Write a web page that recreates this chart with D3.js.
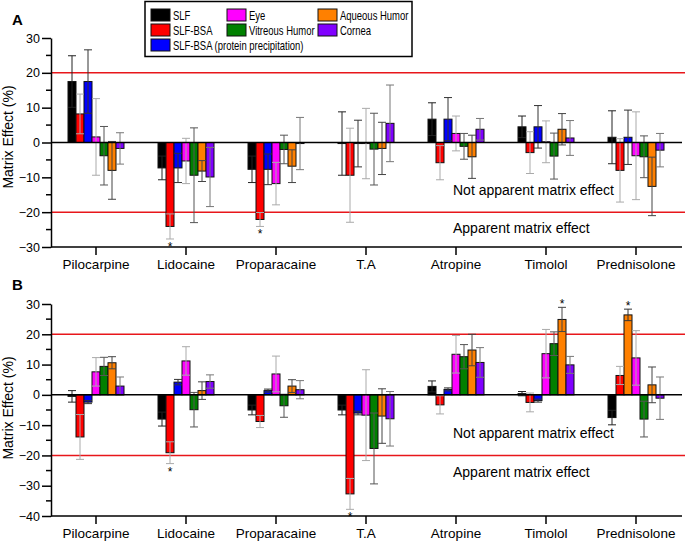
<!DOCTYPE html>
<html>
<head>
<meta charset="utf-8">
<script src="https://cdn.jsdelivr.net/npm/d3@7"></script>
<style>
  body { margin: 0; background: #fff; }
  svg text { font-family: "Liberation Sans", Arial, sans-serif; fill: #000; }
</style>
</head>
<body>
<div id="chart"></div>
<script>
/* data */
const categories = ["Pilocarpine", "Lidocaine", "Proparacaine", "T.A", "Atropine", "Timolol", "Prednisolone"];
const seriesNames = ["SLF", "SLF-BSA", "SLF-BSA (protein precipitation)", "Eye", "Vitreous Humor", "Aqueous Humor", "Cornea"];

// rows = series, columns = categories
const meanA = [
  [17.5, -7.3, -7.7, -0.3, 6.7, 4.5, 1.5],
  [8.2, -24.1, -22.1, -9.4, -5.8, -2.9, -8.0],
  [17.5, -7.3, -7.7, -0.3, 6.7, 4.5, 1.5],
  [1.6, -5.3, -11.8, -0.3, 2.6, 0.2, -3.8],
  [-3.8, -9.4, -2.0, -1.9, -1.1, -3.9, -4.1],
  [-8.0, -8.2, -6.8, -1.7, -4.1, 3.8, -12.6],
  [-1.7, -9.9, -0.3, 5.5, 3.8, 1.3, -2.2]
];
const errA = [
  [7.4, 3.4, 3.8, 9.1, 4.7, 3.1, 7.6],
  [5.7, 3.6, 2.0, 13.5, 4.9, 6.0, 9.1],
  [9.1, 4.2, 4.4, 6.7, 6.2, 6.1, 7.8],
  [11.0, 6.5, 6.1, 10.1, 5.0, 6.0, 12.6],
  [8.4, 13.6, 4.1, 10.3, 3.7, 6.6, 6.0],
  [8.3, 3.0, 4.7, 7.5, 6.2, 4.5, 8.4],
  [4.5, 8.5, 7.5, 11.0, 3.1, 5.0, 4.8]
];
const meanB = [
  [-0.5, -8.0, -5.0, -5.0, 2.8, 0.4, -7.5],
  [-13.9, -19.1, -8.8, -32.7, -3.3, -2.5, 6.4],
  [-2.4, 4.2, 1.4, -6.0, 1.8, -1.9, 26.4],
  [7.6, 11.2, 6.9, -6.7, 13.4, 13.6, 12.2],
  [9.4, -4.9, -3.6, -17.7, 12.6, 16.9, -8.0],
  [10.6, 1.4, 2.9, -7.0, 14.8, 24.9, 3.3],
  [2.9, 4.4, 1.7, -7.9, 10.7, 9.9, -1.1]
];
const errB = [
  [1.9, 2.3, 1.6, 1.6, 1.8, 0.7, 2.4],
  [7.4, 3.6, 2.0, 5.1, 3.0, 3.1, 3.0],
  [0.5, 0.9, 0.5, 0.6, 0.5, 0.5, 1.9],
  [4.7, 4.7, 5.9, 15.0, 6.2, 8.0, 9.0],
  [3.0, 5.7, 3.8, 11.7, 4.0, 3.9, 5.9],
  [2.0, 2.9, 2.1, 9.0, 5.2, 4.0, 5.9],
  [3.0, 2.2, 3.0, 9.0, 4.9, 2.8, 7.0]
];
// significance marks: [category, series index]
const starsA = [["Lidocaine", 1], ["Proparacaine", 1]];
const starsB = [["Lidocaine", 1], ["T.A", 1], ["Timolol", 5], ["Prednisolone", 2]];

const seriesColors = ["#000000", "#ff0000", "#0000ff", "#ff00ff", "#008000", "#ff8000", "#8000ff"];
const errColors = ["#222", "#aaa", "#333", "#aaa", "#555", "#444", "#777"];
// in panel B the Prednisolone bar of series 2 is drawn orange in the figure
const colorOverrideB = [["Prednisolone", 2, "#ff8000"]];

const W = 686, H = 548;
const left = 51, right = 681;

const svg = d3.select("#chart").append("svg")
  .attr("width", W).attr("height", H);

const x = d3.scaleBand().domain(categories).range([left, right]).padding(0);
const xs = d3.scaleBand().domain(d3.range(seriesNames.length)).range([-28, 28]).padding(0);

function drawPanel(cfg) {
  const y = d3.scaleLinear().domain(cfg.domain).range([cfg.bottom, cfg.top]);
  const g = svg.append("g");

  // threshold lines
  g.selectAll("line.thr").data([20, -20]).join("line")
    .attr("x1", left).attr("x2", 685)
    .attr("y1", d => y(d)).attr("y2", d => y(d))
    .attr("stroke", "#e8161b").attr("stroke-width", 1.5);

  // flatten data
  const rows = [];
  cfg.mean.forEach((vals, s) => vals.forEach((v, c) => {
    let col = seriesColors[s];
    (cfg.overrides || []).forEach(o => { if (o[0] === categories[c] && o[1] === s) col = o[2]; });
    rows.push({ s, cat: categories[c], v, e: cfg.err[s][c], col });
  }));
  const cx = d => x(d.cat) + x.bandwidth() / 2 + xs(d.s);

  g.selectAll("rect.bar").data(rows).join("rect")
    .attr("x", cx)
    .attr("width", xs.bandwidth())
    .attr("y", d => y(Math.max(0, d.v)))
    .attr("height", d => Math.abs(y(d.v) - y(0)))
    .attr("fill", d => d.col)
    .attr("stroke", "#111").attr("stroke-width", 1);

  // error bars
  const eb = g.selectAll("g.err").data(rows).join("g")
    .attr("stroke", d => errColors[d.s]).attr("stroke-width", 1);
  const mid = d => cx(d) + xs.bandwidth() / 2;
  eb.append("line")
    .attr("x1", mid).attr("x2", mid)
    .attr("y1", d => y(d.v - d.e)).attr("y2", d => y(d.v + d.e));
  [-1, 1].forEach(sg => {
    eb.append("line")
      .attr("x1", d => mid(d) - 4).attr("x2", d => mid(d) + 4)
      .attr("y1", d => y(d.v + sg * d.e)).attr("y2", d => y(d.v + sg * d.e));
  });

  // zero line
  g.append("line")
    .attr("x1", left).attr("x2", 682)
    .attr("y1", y(0)).attr("y2", y(0))
    .attr("stroke", "#000").attr("stroke-width", 1.5);

  // stars
  g.selectAll("text.star").data(cfg.stars).join("text")
    .attr("text-anchor", "middle")
    .attr("font-size", 12)
    .attr("x", d => x(d[0]) + x.bandwidth() / 2 + xs(d[1]) + xs.bandwidth() / 2)
    .attr("y", d => {
      const c = categories.indexOf(d[0]);
      const v = cfg.mean[d[1]][c], e = cfg.err[d[1]][c];
      return v < 0 ? y(v - e) + 12 : y(v + e) + 1;
    })
    .text("*");

  // y axis
  const yMajor = d3.range(cfg.domain[0], cfg.domain[1] + 1, 10);
  const yMinor = d3.range(cfg.domain[0] + 5, cfg.domain[1], 10);
  const ya = g.append("g").attr("transform", `translate(${left},0)`)
    .call(d3.axisLeft(y).tickValues(yMajor).tickSize(9).tickSizeOuter(0).tickPadding(2));
  ya.append("g").selectAll("line").data(yMinor).join("line")
    .attr("x1", -5).attr("x2", 0)
    .attr("y1", d => y(d)).attr("y2", d => y(d))
    .attr("stroke", "#000").attr("stroke-width", 1.5);
  ya.selectAll("path, line").attr("stroke-width", 1.5);
  ya.selectAll("text").attr("font-size", 12.5).attr("font-family", "Liberation Sans, Arial");

  // x axis
  const xa = g.append("g").attr("transform", `translate(0,${cfg.bottom})`)
    .call(d3.axisBottom(x).tickSize(8).tickSizeOuter(0).tickPadding(4));
  xa.select("path.domain").attr("d", `M${left},0H682`);
  xa.selectAll("path, line").attr("stroke-width", 1.5);
  xa.selectAll("text").attr("font-size", 13.5).attr("font-family", "Liberation Sans, Arial");

  // y title
  g.append("text")
    .attr("transform", `translate(13,${cfg.titleY}) rotate(-90)`)
    .attr("text-anchor", "middle").attr("font-size", 14)
    .text("Matrix Effect (%)");

  // panel letter
  g.append("text").attr("x", 12).attr("y", cfg.letterY)
    .attr("font-size", 15).attr("font-weight", "bold").text(cfg.id);

  // region annotations
  g.append("text").attr("x", 453).attr("y", cfg.noteY[0])
    .attr("font-size", 14).text("Not apparent matrix effect");
  g.append("text").attr("x", 453).attr("y", cfg.noteY[1])
    .attr("font-size", 14).text("Apparent matrix effect");
}

drawPanel({ id: "A", mean: meanA, err: errA, stars: starsA, domain: [-30, 30],
  top: 38, bottom: 247, titleY: 137, letterY: 25, noteY: [195, 233] });
drawPanel({ id: "B", mean: meanB, err: errB, stars: starsB, overrides: colorOverrideB, domain: [-40, 30],
  top: 304, bottom: 516, titleY: 408, letterY: 290, noteY: [438, 477] });

// legend
const lg = svg.append("g");
lg.append("rect").attr("x", 145).attr("y", 1.5).attr("width", 267).attr("height", 55)
  .attr("fill", "#fff").attr("stroke", "#000").attr("stroke-width", 1.5);
const legendPos = [[151, 9], [151, 24], [151, 39], [227, 9], [227, 24], [318, 9], [318, 24]];
const legendOrder = [0, 1, 2, 3, 4, 5, 6];
const li = lg.selectAll("g.item").data(legendOrder).join("g")
  .attr("transform", (d, i) => `translate(${legendPos[i][0]},${legendPos[i][1]})`);
li.append("rect").attr("width", 19).attr("height", 12)
  .attr("fill", d => seriesColors[d]).attr("stroke", "#111").attr("stroke-width", 1);
// the legend font in the figure is condensed
li.append("text")
  .attr("transform", "translate(22,10.5) scale(0.79,1)")
  .attr("font-size", 12)
  .text(d => seriesNames[d]);
</script>
</body>
</html>
